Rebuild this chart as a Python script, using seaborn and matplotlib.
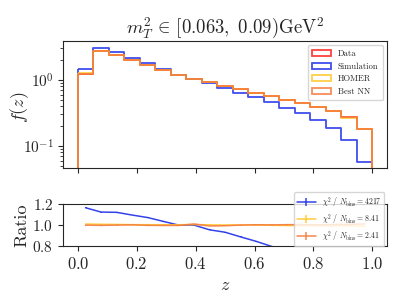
import numpy as np
import pandas as pd
import seaborn as sns
import matplotlib.pyplot as plt
from matplotlib.colors import to_rgb
from matplotlib.patches import Patch

# 19 bins on [0, 1] (density)
edges = list(np.linspace(0, 1, 20))
data_vals = [1.245, 2.75, 2.39, 1.99, 1.67, 1.40, 1.20, 1.035, 0.933, 0.811,
             0.723, 0.642, 0.572, 0.503, 0.448, 0.390, 0.339, 0.272, 0.181]
sim_vals = [1.45, 3.09, 2.68, 2.18, 1.79, 1.45, 1.20, 1.035, 0.891, 0.756,
            0.642, 0.543, 0.456, 0.380, 0.313, 0.248, 0.189, 0.125, 0.0578]
homer_vals = [1.258, 2.772, 2.405, 1.998, 1.676, 1.404, 1.204, 1.040, 0.935, 0.812,
              0.724, 0.642, 0.571, 0.501, 0.446, 0.388, 0.337, 0.270, 0.179]
nn_vals = [1.245, 2.742, 2.390, 1.995, 1.666, 1.395, 1.196, 1.046, 0.925, 0.806,
           0.723, 0.644, 0.573, 0.505, 0.450, 0.391, 0.341, 0.274, 0.183]

names = ['Data', 'Simulation', 'HOMER', 'Best NN']
colors = ['#ff2020', '#1f2fe8', '#ffc62a', '#f47a3e']
chi2 = ['4217', '8.41', '2.41']

sns.set_style('ticks')
plt.rcParams['font.family'] = 'serif'
plt.rcParams['font.serif'] = ['cmr10', 'DejaVu Serif']
plt.rcParams['mathtext.fontset'] = 'cm'
plt.rcParams['axes.unicode_minus'] = False
plt.rcParams['axes.formatter.use_mathtext'] = True
plt.rcParams['axes.edgecolor'] = '.15'

fig = plt.figure(figsize=(4.07, 3.05), dpi=100)
ax = fig.add_axes([0.155, 0.449, 0.796, 0.417])
rax = fig.add_axes([0.155, 0.193, 0.796, 0.138], sharex=ax)

centers = [0.5 * (a + b) for a, b in zip(edges[:-1], edges[1:])]
all_vals = [data_vals, sim_vals, homer_vals, nn_vals]
for vals, name, c in zip(all_vals, names, colors):
    df = pd.DataFrame({'z': centers, 'w': vals})
    sns.histplot(data=df, x='z', weights='w', bins=edges, element='step', fill=True,
                 color=c, facecolor='none', edgecolor=(*to_rgb(c), 0.85),
                 linewidth=1.3, ax=ax)

ax.set_yscale('log')
ax.set_ylim(0.0464, 3.9)
ax.set_xlim(-0.05, 1.05)
ax.set_xlabel('')
ax.set_ylabel('$f(z)$', fontsize=13)
ax.yaxis.set_label_coords(-0.10, 0.48)
ax.set_title(r'$m_T^2 \,\in\, [0.063,\ 0.09)\mathrm{GeV}^2$', fontsize=13.5, pad=3)
ax.tick_params(labelbottom=False, labelsize=11)
handles = [Patch(facecolor='none', edgecolor=c, linewidth=1.3, alpha=0.85) for c in colors]
ax.legend(handles, names, loc='upper right', fontsize=6.2, framealpha=0.8,
          handlelength=2.2, labelspacing=0.5, borderpad=0.5)

data_arr = np.array(data_vals)
for vals, c, x2 in zip(all_vals[1:], colors[1:], chi2):
    ratio = np.array(vals) / data_arr
    rax.errorbar(centers, ratio, yerr=0.004, color=c, linewidth=1.1, alpha=0.9,
                 label=r'$\chi^2\ /\ N_{\mathrm{bins}} = ' + x2 + '$')

rax.set_ylim(0.8, 1.2)
rax.set_yticks([0.8, 1.0, 1.2])
rax.set_xticks([0.0, 0.2, 0.4, 0.6, 0.8, 1.0])
rax.tick_params(axis='x', labelsize=12)
rax.tick_params(axis='y', labelsize=11)
rax.set_ylabel('Ratio', fontsize=13)
rax.yaxis.set_label_coords(-0.105, 0.5)
rax.set_xlabel('$z$', fontsize=13)
rax.legend(loc='lower right', bbox_to_anchor=(1.003, -0.1), fontsize=5.6,
           framealpha=0.8, handlelength=2.4, labelspacing=0.3, borderpad=0.35)

fig.savefig('out.png', dpi=100)
